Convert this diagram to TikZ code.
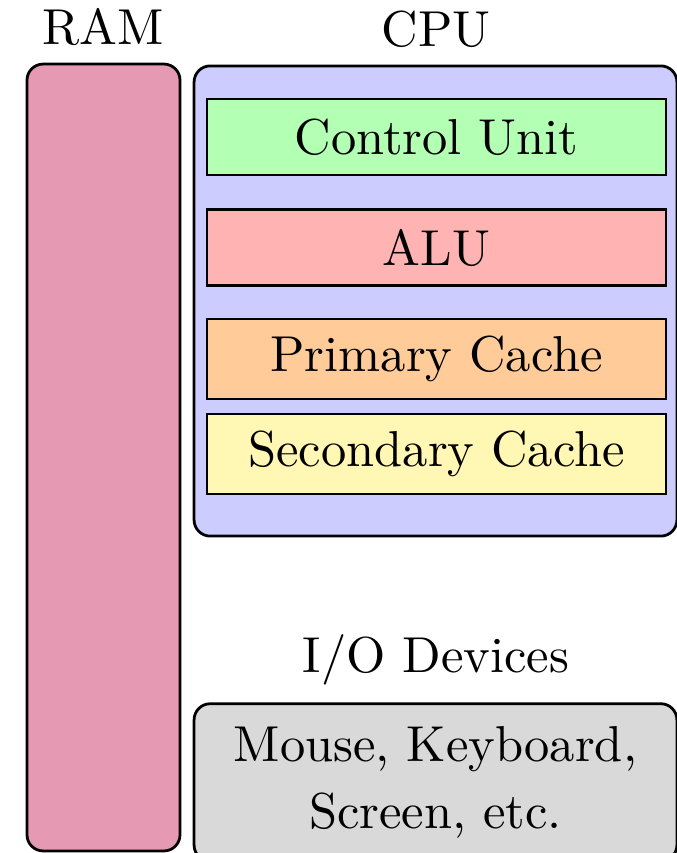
\documentclass[tikz,border=0pt]{standalone}
\definecolor{ramc}{rgb}{0.9,0.6,0.7}
\definecolor{cpuc}{RGB}{204,204,255}
\definecolor{cuc}{RGB}{179,255,179}
\definecolor{aluc}{RGB}{255,179,179}
\definecolor{pcc}{RGB}{255,204,153}
\definecolor{scc}{RGB}{255,247,179}
\definecolor{ioc}{RGB}{217,217,217}
\begin{document}
\begin{tikzpicture}[x=0.198pt,y=-0.198pt,
  outline/.style={draw, line width=0.55pt, rounded corners=3.2pt, inner sep=0pt},
  unitbox/.style={draw, line width=0.55pt, inner sep=0pt, minimum width=90.9pt},
  lbl/.style={anchor=base, inner sep=0pt}]
\useasboundingbox (0,0) rectangle (677,853);
% containers
\node[outline, fill=ramc, minimum width=30.3pt, minimum height=155.8pt] (ram) at (103.5,457.5) {};
\node[outline, fill=cpuc, minimum width=95.6pt, minimum height=93.1pt] (cpu) at (435.5,301) {};
\node[outline, fill=ioc, minimum width=95.6pt, minimum height=31.2pt, align=center] (io) at (435.5,782.5) {Mouse, Keyboard,\\[1.3pt]Screen, etc.};
% labels
\node[lbl] (ramlbl) at (103.5,45) {RAM};
\node[lbl] (cpulbl) at (436,47) {CPU};
\node[lbl] (iolbl) at (436,672) {I/O Devices};
% CPU units
\node[unitbox, fill=cuc, minimum height=15.05pt] (cu) at (436.5,137) {Control Unit};
\node[unitbox, fill=aluc, minimum height=15.2pt] (alu) at (436.5,247.5) {ALU};
\node[unitbox, fill=pcc, minimum height=15.8pt] (pc) at (436.5,359) {Primary Cache};
\node[unitbox, fill=scc, minimum height=15.8pt] (sc) at (436.5,454) {Secondary Cache};
\end{tikzpicture}
\end{document}
